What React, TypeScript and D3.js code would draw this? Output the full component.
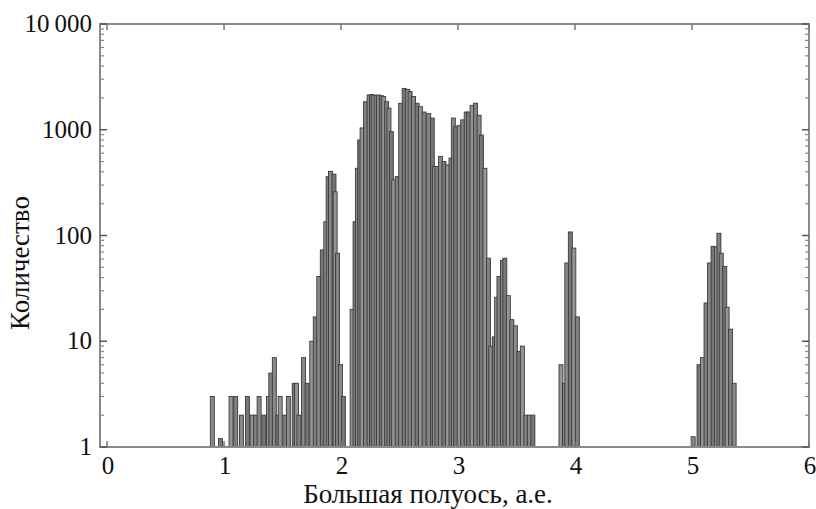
import React from 'react';
import * as d3 from 'd3';

// Semi-major axis (AU) of histogram bins, and number of objects in each
const semiAxis = [
  0.90, 0.97, 1.06, 1.10, 1.15, 1.20, 1.24, 1.27, 1.30, 1.34, 1.38, 1.40, 1.43, 1.46, 1.48,
  1.52, 1.55, 1.60, 1.62, 1.64, 1.68, 1.71, 1.75, 1.78, 1.81, 1.84, 1.87, 1.89, 1.91, 1.94,
  1.95, 1.97, 1.995, 2.02,
  2.095, 2.12, 2.14, 2.16, 2.18, 2.21, 2.24, 2.26, 2.28, 2.30, 2.32, 2.345, 2.365, 2.39, 2.41,
  2.43, 2.45, 2.48, 2.51, 2.54, 2.57, 2.59, 2.62, 2.65, 2.68, 2.71, 2.75, 2.78, 2.80, 2.82,
  2.85, 2.88, 2.91, 2.94, 2.96, 2.98, 3.01, 3.04, 3.07, 3.09, 3.12, 3.15, 3.18, 3.20, 3.23,
  3.26, 3.28, 3.31, 3.33, 3.35, 3.38, 3.40, 3.43, 3.46, 3.49, 3.52, 3.55, 3.58, 3.61, 3.64,
  3.88, 3.91, 3.93, 3.96, 3.99, 4.02,
  5.01, 5.06, 5.09, 5.12, 5.15, 5.18, 5.21, 5.23, 5.25, 5.28, 5.30, 5.33, 5.36,
];
const counts = [
  3, 1.2, 3, 3, 2, 3, 2, 2, 3, 2, 3, 5, 7, 2, 3,
  2, 3, 4, 4, 2, 7, 4, 10, 17, 41, 73, 135, 360, 404, 380,
  259, 68, 6, 3,
  20, 135, 432, 800, 1040, 1840, 2130, 2150, 2130, 2100, 2130, 2100, 2060, 1840, 1600,
  960, 335, 360, 1780, 2460, 2400, 2300, 2060, 1780, 1650, 1470, 1420, 1290, 450, 450,
  560, 500, 465, 540, 1290, 1070, 1100, 1240, 1470, 1470, 1700, 1780, 1370, 890, 432,
  61, 9, 11, 26, 41, 58, 61, 27, 16, 14, 8, 9, 2, 2, 2,
  6, 4, 55, 108, 76, 17,
  1.25, 6, 7, 23, 55, 79, 78, 105, 68, 51, 21, 13, 4,
];

const xTicks = [0, 1, 2, 3, 4, 5, 6];
const yTicks = [1, 10, 100, 1000, 10000];
const yTickLabels = ['1', '10', '100', '1000', '10\u2009000'];
const xTitle = 'Большая полуось, а.е.';
const yTitle = 'Количество';

export default function App() {
  const W = 816, H = 509;
  const left = 100, right = 809, top = 24, bottom = 447;
  const x = d3.scaleLinear().domain([-0.06, 6.0]).range([left, right]);
  const y = d3.scaleLog().domain([1, 10000]).range([bottom, top]);
  const barW = x(0.034) - x(0);
  const fills = ['#8a8a8a', '#777777', '#959595', '#808080'];
  const fontStyle = { fontFamily: '"Liberation Serif", "Times New Roman", Tinos, "DejaVu Serif", serif' };

  const minor: number[] = [];
  [1, 10, 100, 1000].forEach((d) => {
    for (let m = 2; m <= 9; m++) minor.push(d * m);
  });

  return (
    <svg width={W} height={H} style={{ position: 'absolute', left: 0, top: 0, background: '#fff' }}>
      <rect x={0} y={0} width={W} height={H} fill="#fff" />
      {/* bars */}
      <g>
        {semiAxis.map((a, i) => (
          <rect
            key={i}
            x={x(a) - barW / 2}
            y={y(counts[i])}
            width={barW}
            height={bottom - y(counts[i])}
            fill={fills[i % fills.length]}
            stroke="#3a3a3a"
            strokeWidth={0.9}
          />
        ))}
      </g>
      {/* frame */}
      <rect x={left} y={top} width={right - left} height={bottom - top} fill="none" stroke="#8a8a8a" strokeWidth={2} />
      {/* y ticks left & right */}
      {yTicks.map((t) => (
        <g key={'yt' + t}>
          <line x1={left} x2={left + 7} y1={y(t)} y2={y(t)} stroke="#555" strokeWidth={1.5} />
          <line x1={right} x2={right - 7} y1={y(t)} y2={y(t)} stroke="#555" strokeWidth={1.5} />
        </g>
      ))}
      {minor.map((t) => (
        <g key={'ym' + t}>
          <line x1={left} x2={left + 4} y1={y(t)} y2={y(t)} stroke="#888" strokeWidth={1.2} />
          <line x1={right} x2={right - 4} y1={y(t)} y2={y(t)} stroke="#888" strokeWidth={1.2} />
        </g>
      ))}
      {/* x ticks top & bottom */}
      {xTicks.map((t) => (
        <g key={'xt' + t}>
          <line x1={x(t)} x2={x(t)} y1={top} y2={top + 6} stroke="#777" strokeWidth={1.5} />
          <line x1={x(t)} x2={x(t)} y1={bottom} y2={bottom - 6} stroke="#777" strokeWidth={1.5} />
        </g>
      ))}
      {/* tick labels */}
      <g style={fontStyle} fill="#111">
        {yTicks.map((t, i) => (
          <text key={'yl' + t} x={92} y={y(t) + 8} textAnchor="end" fontSize={25}>
            {yTickLabels[i]}
          </text>
        ))}
        {xTicks.map((t) => (
          <text key={'xl' + t} x={x(t) + 1} y={474} textAnchor="middle" fontSize={25}>
            {t}
          </text>
        ))}
        <text x={428} y={503} textAnchor="middle" fontSize={27}>
          {xTitle}
        </text>
        <text transform={`translate(29, 263) rotate(-90)`} textAnchor="middle" fontSize={27}>
          {yTitle}
        </text>
      </g>
    </svg>
  );
}
